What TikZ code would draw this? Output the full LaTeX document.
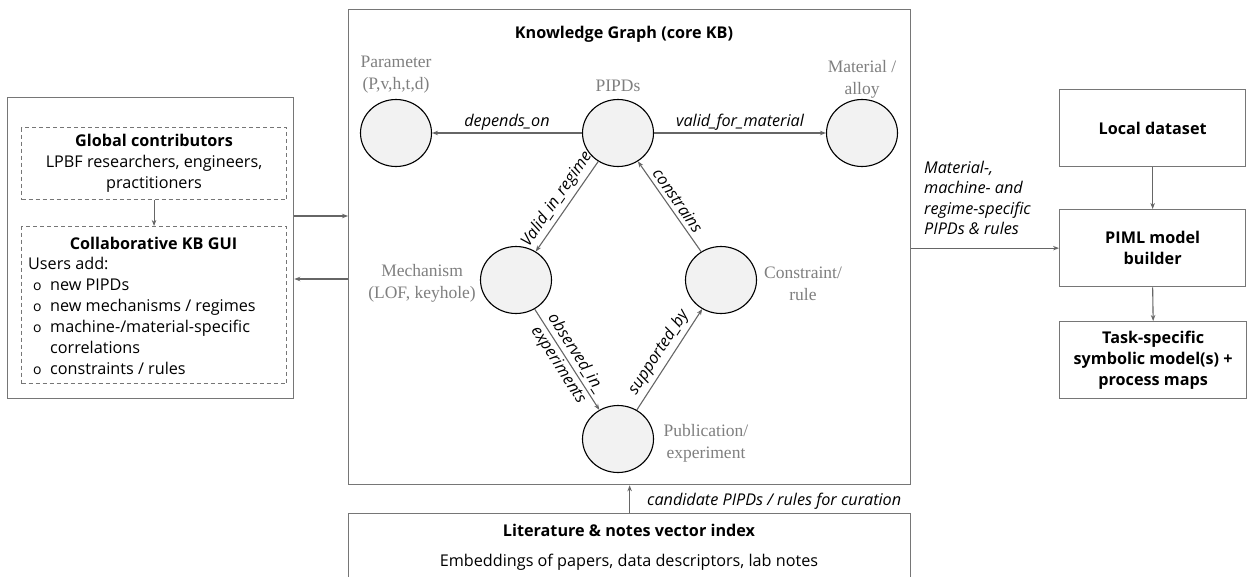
\documentclass[tikz,border=0pt]{standalone}
\usepackage{fontspec}
\setmainfont{Open Sans}
\newfontfamily\serifl{Liberation Serif}
\usetikzlibrary{arrows.meta,shapes.geometric}
\definecolor{boxc}{HTML}{767676}
\definecolor{linec}{HTML}{666666}
\definecolor{labc}{HTML}{7F7F7F}
\definecolor{circf}{HTML}{F2F2F2}
\newcommand{\sz}{\fontsize{16.2}{21}\selectfont}
\tikzset{
  box/.style={draw=boxc, line width=1.3pt, inner sep=0pt},
  dbox/.style={draw=boxc, line width=1.1pt, dash pattern=on 4pt off 3pt, inner sep=0pt},
  circ/.style={ellipse, draw=black, fill=circf, line width=1.1pt, minimum width=71pt, minimum height=67pt, inner sep=0pt},
  lab/.style={font=\serifl\fontsize{17.5}{22}\selectfont, text=labc, align=center, inner sep=0pt},
  txt/.style={font=\sz, inner sep=0pt},
  btxt/.style={font=\bfseries\sz, inner sep=0pt},
  conn/.style={draw=linec, line width=1.1pt, -{Stealth[length=6pt,width=4.5pt]}},
  elab/.style={font=\itshape\sz, inner sep=2pt},
  slab/.style={elab, sloped, above, inner sep=4pt},
}
\begin{document}
\begin{tikzpicture}[x=1pt,y=-1pt]
\useasboundingbox (0,0) rectangle (1247,576);
% left panel
\node[box, anchor=north west, minimum width=286, minimum height=301] (contrib) at (7,97) {};
\node[dbox, anchor=north west, minimum width=265, minimum height=72, align=center, font=\sz] (global) at (21,127) {\textbf{Global contributors}\\LPBF researchers, engineers,\\practitioners};
\node[dbox, anchor=north west, minimum width=265, minimum height=157] (gui) at (21,226) {};
\node[btxt] (guititle) at (153.5,243) {Collaborative KB GUI};
\node[txt, anchor=west, align=left] (guilist) at (28,316) {Users add:\\
\hspace*{5pt}\makebox[17pt][l]{\fontsize{14}{15}\selectfont o}new PIPDs\\
\hspace*{5pt}\makebox[17pt][l]{\fontsize{14}{15}\selectfont o}new mechanisms / regimes\\
\hspace*{5pt}\makebox[17pt][l]{\fontsize{14}{15}\selectfont o}machine-/material-specific\\
\hspace*{22pt}correlations\\
\hspace*{5pt}\makebox[17pt][l]{\fontsize{14}{15}\selectfont o}constraints / rules};
\draw[conn] (global.south) -- (gui.north);
% knowledge graph
\node[box, anchor=north west, minimum width=562, minimum height=475] (kg) at (348,9) {};
\node[btxt] (kgtitle) at (624,34) {Knowledge Graph (core KB)};
\node[circ] (param) at (396,133) {};
\node[circ] (pipd) at (618,133) {};
\node[circ] (mat) at (862,133) {};
\node[circ] (mech) at (516,280) {};
\node[circ] (cons) at (721,280) {};
\node[circ] (pub) at (618,439) {};
\node[lab] (paraml) at (396,75) {Parameter\\(P,v,h,t,d)};
\node[lab] (pipdl) at (618,86) {PIPDs};
\node[lab] (matl) at (862,79) {Material /\\alloy};
\node[lab, anchor=east] (mechl) at (476,283) {Mechanism\\(LOF, keyhole)};
\node[lab] (consl) at (803,284) {Constraint/\\rule};
\node[lab] (publ) at (706,443) {Publication/\\experiment};
\draw[conn] (pipd) -- node[elab, above] {depends\_on} (param);
\draw[conn] (pipd) -- node[elab, above] {valid\_for\_material} (mat);
\draw[conn] (pipd) -- (mech);
\path (mech) -- node[slab, pos=0.5] {Valid\_in\_regime} (pipd);
\draw[conn] (cons) -- (pipd);
\path (pipd) -- node[slab, pos=0.5] {constrains} (cons);
\draw[conn] (mech) -- node[elab, sloped, align=center, inner sep=0pt] {observed\_in\_\\experiments} (pub);
\draw[conn] (pub) -- node[slab] {supported\_by} (cons);
% arrows left panel <-> KG
\draw[conn] (contrib.east |- 0,216) -- (kg.west |- 0,216);
\draw[conn] (kg.west |- 0,279) -- (contrib.east |- 0,279);
% literature
\node[box, anchor=north west, minimum width=562, minimum height=80] (lit) at (348,513) {};
\node[btxt] (littitle) at (629,530) {Literature \& notes vector index};
\node[txt] (litsub) at (629,562) {Embeddings of papers, data descriptors, lab notes};
\draw[conn] (lit.north) -- (kg.south);
\node[elab, anchor=west, inner sep=0pt] (candl) at (647,501) {candidate PIPDs / rules for curation};
% right side
\node[box, anchor=north west, minimum width=186, minimum height=77, font=\bfseries\sz] (local) at (1059,89) {Local dataset};
\node[box, anchor=north west, minimum width=186, minimum height=77, align=center, font=\bfseries\sz] (piml) at (1059,209) {PIML model\\builder};
\node[box, anchor=north west, minimum width=187, minimum height=77, align=center, font=\bfseries\sz] (task) at (1059,321) {Task-specific\\symbolic model(s) +\\process maps};
\draw[conn] (local.south) -- (piml.north);
\draw[conn] (piml.south) -- (task.north);
\draw[conn] (kg.east |- piml.west) -- (piml.west);
\node[elab, anchor=west, align=left, inner sep=0pt, font=\itshape\fontsize{16.2}{20.5}\selectfont] (specl) at (924,198) {Material-,\\machine- and\\regime-specific\\PIPDs \& rules};
\end{tikzpicture}
\end{document}
